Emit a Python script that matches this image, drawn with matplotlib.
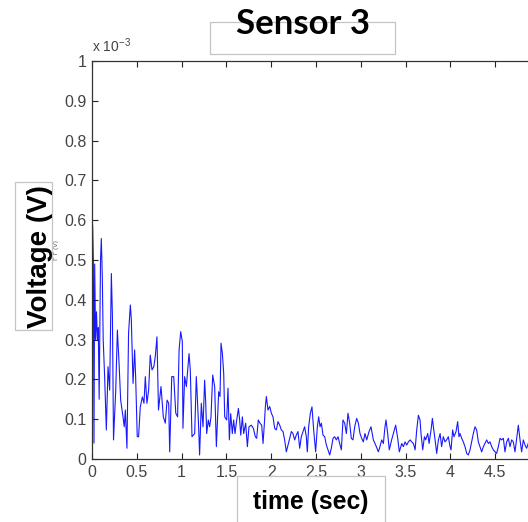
import matplotlib
matplotlib.use("Agg")
import matplotlib.pyplot as plt
from matplotlib.patches import Rectangle
import numpy as np

# Sensor 3 voltage trace, in units of 1e-3 V, split into time windows
t_0 = [0.000, 0.007, 0.015, 0.022, 0.030, 0.040, 0.050, 0.060, 0.070, 0.080,
       0.095, 0.104, 0.115, 0.125, 0.141, 0.160, 0.179, 0.197, 0.216, 0.228,
       0.240, 0.265, 0.283, 0.300, 0.320, 0.346, 0.360, 0.372, 0.390, 0.408,
       0.428, 0.439, 0.458, 0.476, 0.487, 0.505, 0.520, 0.539, 0.562, 0.580,
       0.595, 0.613, 0.632, 0.650, 0.670, 0.690, 0.706, 0.725, 0.742, 0.770,
       0.796, 0.818, 0.838, 0.856, 0.867, 0.890, 0.912, 0.935, 0.955, 0.972,
       0.990]
v_0 = [0.450, 0.588, 0.500, 0.040, 0.490, 0.300, 0.370, 0.300, 0.330, 0.150,
       0.500, 0.554, 0.458, 0.300, 0.207, 0.073, 0.232, 0.173, 0.466, 0.358,
       0.048, 0.173, 0.324, 0.250, 0.148, 0.106, 0.081, 0.123, 0.027, 0.316,
       0.387, 0.349, 0.190, 0.274, 0.207, 0.056, 0.056, 0.131, 0.156, 0.140,
       0.207, 0.140, 0.173, 0.261, 0.224, 0.232, 0.257, 0.307, 0.123, 0.182,
       0.106, 0.090, 0.148, 0.140, 0.018, 0.207, 0.207, 0.115, 0.106, 0.274,
       0.320]

t_1 = [1.008, 1.015, 1.034, 1.053, 1.083, 1.097, 1.116, 1.146, 1.164, 1.175,
       1.190, 1.201, 1.220, 1.239, 1.257, 1.268, 1.280, 1.298, 1.313, 1.328,
       1.347, 1.369, 1.388, 1.414, 1.429, 1.440, 1.455, 1.470, 1.481, 1.503,
       1.518, 1.533, 1.548, 1.566, 1.581, 1.596, 1.615, 1.634, 1.648, 1.660,
       1.678, 1.693, 1.715, 1.734, 1.752, 1.778, 1.801, 1.823, 1.838, 1.856,
       1.875, 1.894, 1.909, 1.924, 1.935, 1.946, 1.964, 1.983]
v_1 = [0.295, 0.077, 0.207, 0.182, 0.265, 0.224, 0.056, 0.064, 0.207, 0.157,
       0.081, 0.010, 0.140, 0.081, 0.198, 0.148, 0.064, 0.098, 0.081, 0.106,
       0.211, 0.182, 0.031, 0.169, 0.157, 0.291, 0.265, 0.215, 0.106, 0.098,
       0.178, 0.048, 0.114, 0.064, 0.098, 0.064, 0.098, 0.127, 0.098, 0.060,
       0.106, 0.064, 0.090, 0.031, 0.081, 0.085, 0.077, 0.056, 0.052, 0.098,
       0.090, 0.085, 0.039, 0.090, 0.132, 0.157, 0.123, 0.132]

t_2 = [2.002, 2.020, 2.039, 2.057, 2.076, 2.095, 2.113, 2.132, 2.150, 2.169,
       2.188, 2.206, 2.225, 2.243, 2.262, 2.280, 2.299, 2.318, 2.336, 2.355,
       2.373, 2.392, 2.403, 2.418, 2.437, 2.455, 2.474, 2.496, 2.515, 2.530,
       2.545, 2.560, 2.578, 2.597, 2.616, 2.634, 2.653, 2.671, 2.690, 2.708,
       2.727, 2.746, 2.764, 2.783, 2.801, 2.820, 2.839, 2.857, 2.876, 2.894,
       2.913, 2.932, 2.954]
v_2 = [0.115, 0.106, 0.077, 0.073, 0.094, 0.085, 0.073, 0.069, 0.048, 0.018,
       0.035, 0.052, 0.069, 0.064, 0.048, 0.060, 0.069, 0.027, 0.056, 0.069,
       0.081, 0.056, 0.018, 0.081, 0.115, 0.131, 0.073, 0.018, 0.081, 0.106,
       0.081, 0.090, 0.060, 0.056, 0.035, 0.023, 0.010, 0.027, 0.052, 0.056,
       0.048, 0.056, 0.039, 0.023, 0.098, 0.090, 0.064, 0.115, 0.090, 0.052,
       0.048, 0.081, 0.102]

t_3 = [2.973, 2.991, 3.010, 3.028, 3.047, 3.066, 3.092, 3.114, 3.140, 3.166,
       3.196, 3.214, 3.233, 3.252, 3.270, 3.281, 3.300, 3.318, 3.344, 3.363,
       3.389, 3.412, 3.430, 3.457, 3.475, 3.494, 3.512, 3.531, 3.550, 3.568,
       3.587, 3.606, 3.624, 3.643, 3.661, 3.672, 3.691, 3.710, 3.724, 3.747,
       3.762, 3.784, 3.799, 3.810, 3.829, 3.847, 3.866, 3.885]
v_3 = [0.090, 0.064, 0.052, 0.043, 0.064, 0.048, 0.069, 0.081, 0.048, 0.035,
       0.018, 0.031, 0.048, 0.039, 0.081, 0.098, 0.064, 0.023, 0.048, 0.064,
       0.085, 0.052, 0.018, 0.039, 0.031, 0.043, 0.035, 0.043, 0.048, 0.043,
       0.039, 0.023, 0.073, 0.110, 0.098, 0.064, 0.023, 0.056, 0.048, 0.064,
       0.039, 0.073, 0.102, 0.081, 0.048, 0.014, 0.048, 0.064]

t_4 = [3.902, 3.921, 3.940, 3.958, 3.977, 3.996, 4.007, 4.025, 4.040, 4.063,
       4.081, 4.096, 4.107, 4.126, 4.144, 4.163, 4.182, 4.200, 4.219, 4.237,
       4.256, 4.275, 4.293, 4.312, 4.330, 4.349, 4.368, 4.386, 4.405, 4.424,
       4.442, 4.461, 4.479, 4.498, 4.516, 4.535, 4.554, 4.572, 4.591, 4.609,
       4.628, 4.647, 4.665, 4.684, 4.702, 4.721, 4.740, 4.758, 4.777, 4.795,
       4.814, 4.833, 4.851, 4.870, 4.900]
v_4 = [0.031, 0.056, 0.043, 0.048, 0.056, 0.031, 0.023, 0.073, 0.056, 0.069,
       0.094, 0.056, 0.064, 0.052, 0.043, 0.031, 0.014, 0.010, 0.023, 0.043,
       0.064, 0.081, 0.073, 0.043, 0.031, 0.018, 0.031, 0.039, 0.048, 0.039,
       0.043, 0.031, 0.023, 0.018, 0.014, 0.031, 0.052, 0.048, 0.052, 0.018,
       0.043, 0.052, 0.031, 0.048, 0.043, 0.018, 0.052, 0.085, 0.048, 0.018,
       0.048, 0.035, 0.027, 0.040, 0.050]

x_ticks = [0, 0.5, 1, 1.5, 2, 2.5, 3, 3.5, 4, 4.5]
x_tick_labels = ["0", "0.5", "1", "1.5", "2", "2.5", "3", "3.5", "4", "4.5"]
y_tick_labels = ["0", "0.1", "0.2", "0.3", "0.4", "0.5", "0.6", "0.7", "0.8", "0.9", "1"]

time_s = np.concatenate([t_0, t_1, t_2, t_3, t_4])
volts = np.concatenate([v_0, v_1, v_2, v_3, v_4]) * 1e-3

W, H = 528, 522
fig = plt.figure(figsize=(W / 100, H / 100), dpi=100)
ax = fig.add_axes([92 / W, 63 / H, 448 / W, 398 / H])

ax.plot(time_s, volts, color="#0000ff", lw=0.8, alpha=0.9)

tick_font = dict(family=["Liberation Sans Narrow", "Liberation Sans", "DejaVu Sans"],
                 size=11.5, color="#444444")
ax.set_xlim(0, 5)
ax.set_ylim(0, 1e-3)
ax.set_xticks(x_ticks)
ax.set_xticklabels(x_tick_labels, fontdict=tick_font)
yt = np.arange(len(y_tick_labels)) * 1e-4
ax.set_yticks(yt)
ax.set_yticklabels(y_tick_labels, fontdict=tick_font)
ax.tick_params(direction="in", length=4, width=0.8, color="#222222",
               top=True, right=True, pad=4)
for s in ax.spines.values():
    s.set_color("#333333")
    s.set_linewidth(0.9)

# axis multiplier
fig.text(92 / W, 1 - 52 / H, r"x 10$^{\mathregular{-3}}$", fontdict=dict(tick_font, size=10),
         ha="left", va="baseline")

def label_box(x0, y0, x1, y1):
    r = Rectangle((x0 / W, 1 - y1 / H), (x1 - x0) / W, (y1 - y0) / H,
                  transform=fig.transFigure, facecolor="white",
                  edgecolor="#c4c4c4", lw=0.9, zorder=5)
    fig.add_artist(r)

# title
label_box(210, 22, 395, 54)
fig.text(302.5 / W, 1 - 24 / H, "Sensor 3", family=["Lato", "DejaVu Sans"],
         fontweight="bold", fontsize=25, ha="center", va="center", zorder=6)

# y label
label_box(15, 182, 52, 330)
fig.text(56.5 / W, 1 - 250 / H, "\u0393 \u0393 (V)", family=["DejaVu Sans"],
         fontsize=4.5, color="#555555", rotation=90, ha="center", va="center", zorder=4)
fig.text(40 / W, 1 - 256.5 / H, "Voltage (V)", family=["Liberation Sans", "DejaVu Sans"],
         fontweight="bold", fontsize=20, rotation=90, ha="center", va="center", zorder=6)

# x label
label_box(236.7, 476, 385, 530)
fig.text(310.5 / W, 1 - 502 / H, "time (sec)", family=["Liberation Sans", "DejaVu Sans"],
         fontweight="bold", fontsize=17.8, ha="center", va="center", zorder=6)

fig.savefig("out.png", dpi=100)
